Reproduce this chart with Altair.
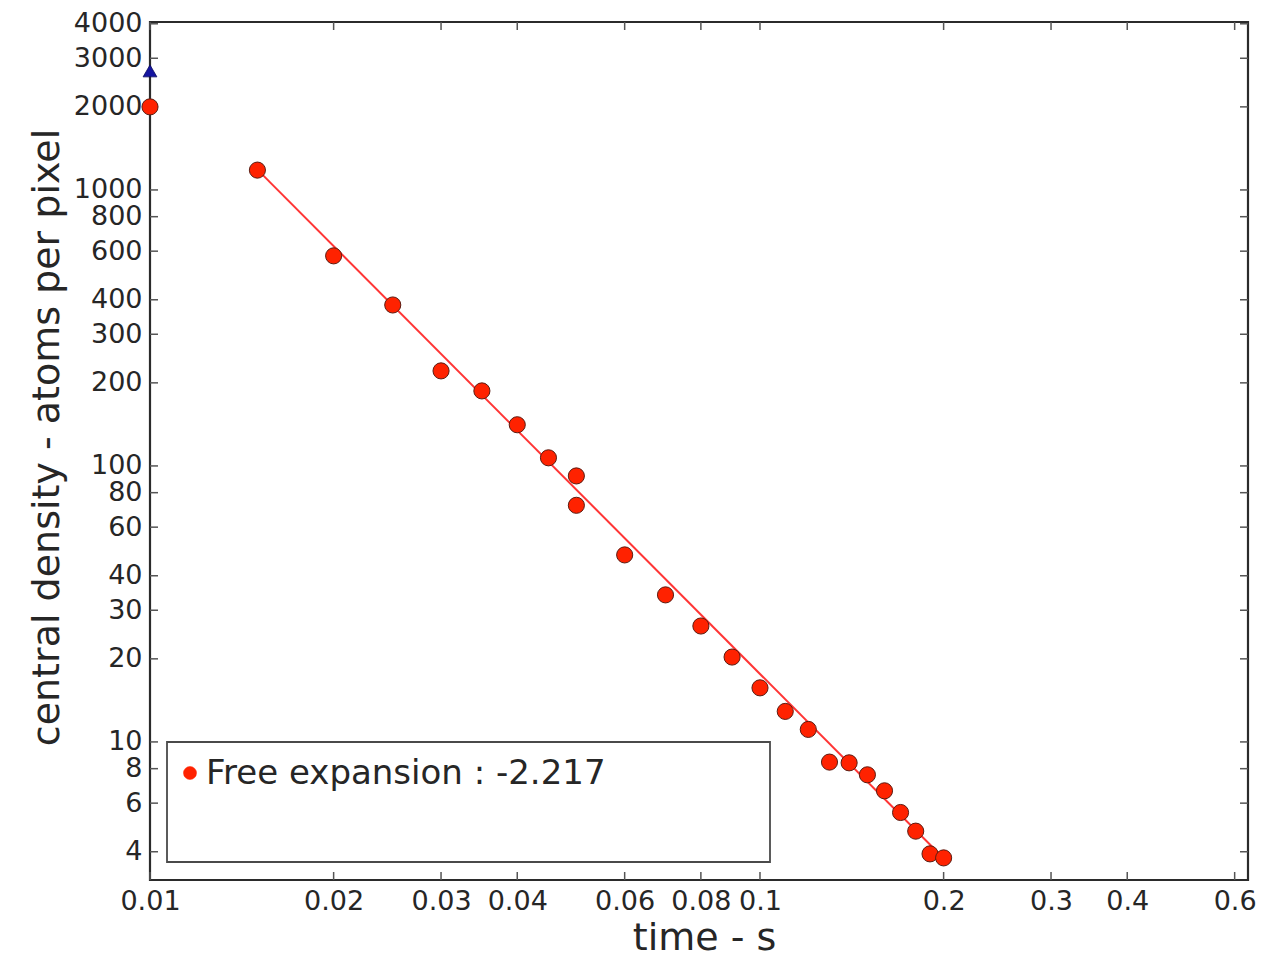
import altair as alt
import pandas as pd

# ---- data ----
time_s = [0.015, 0.02, 0.025, 0.03, 0.035, 0.04, 0.045, 0.05, 0.05, 0.06, 0.07, 0.08,
          0.09, 0.1, 0.11, 0.12, 0.13, 0.14, 0.15, 0.16, 0.17, 0.18, 0.19, 0.2]
density = [1180, 577, 383, 221, 187, 141, 107, 92, 72, 47.6, 34.1, 26.3,
           20.3, 15.7, 12.9, 11.1, 8.45, 8.4, 7.6, 6.65, 5.55, 4.75, 3.93, 3.8]

fit_time = [0.015, 0.2]
fit_density = [1185, 3.79]

start_red_time = [0.01]
start_red_density = [2000]
start_blue_time = [0.01]
start_blue_density = [2700]

x_ticks = [0.01, 0.02, 0.03, 0.04, 0.06, 0.08, 0.1, 0.2, 0.3, 0.4, 0.6]
y_ticks = [4, 6, 8, 10, 20, 30, 40, 60, 80, 100, 200, 300, 400, 600, 800,
           1000, 2000, 3000, 4000]

legend_label = ["Free expansion : -2.217"]

X_DOMAIN = [0.01, 0.631]
Y_DOMAIN = [3.16, 4060]

W, H = 1098, 858
FONT = "DejaVu Sans"
RED = "#ff2200"
EDGE = "#5a1c12"

xs = alt.Scale(type="log", domain=X_DOMAIN, nice=False)
ys = alt.Scale(type="log", domain=Y_DOMAIN, nice=False)

x_axis = alt.Axis(values=x_ticks, format="~g", title="time - s",
                  labelOverlap=False, labelFlush=False, labelPadding=8,
                  titleX=554, titleY=69, titleBaseline="alphabetic",
                  titleAlign="center")
y_axis = alt.Axis(values=y_ticks, format="~g", title="central density - atoms per pixel",
                  labelOverlap=False, labelFlush=False, labelPadding=8,
                  titleX=-92, titleY=415, titleAngle=-90,
                  titleBaseline="alphabetic", titleAlign="center")

pts_df = pd.DataFrame({"t": time_s, "d": density})
fit_df = pd.DataFrame({"t": fit_time, "d": fit_density})
red0_df = pd.DataFrame({"t": start_red_time, "d": start_red_density})
blue0_df = pd.DataFrame({"t": start_blue_time, "d": start_blue_density})
xt_df = pd.DataFrame({"t": x_ticks})
yt_df = pd.DataFrame({"d": y_ticks})
leg_df = pd.DataFrame({"label": legend_label})

fit = alt.Chart(fit_df).mark_line(color="#ff3535", strokeWidth=2).encode(
    x=alt.X("t:Q", scale=xs, axis=x_axis),
    y=alt.Y("d:Q", scale=ys, axis=y_axis),
)

points = alt.Chart(pts_df).mark_point(
    shape="circle", filled=True, fill=RED, stroke=EDGE, strokeWidth=1,
    size=260, opacity=1
).encode(x=alt.X("t:Q", scale=xs), y=alt.Y("d:Q", scale=ys))

red0 = alt.Chart(red0_df).mark_point(
    shape="circle", filled=True, fill=RED, stroke=EDGE, strokeWidth=1,
    size=260, opacity=1, clip=False
).encode(x=alt.X("t:Q", scale=xs), y=alt.Y("d:Q", scale=ys))

blue0 = alt.Chart(blue0_df).mark_point(
    shape="triangle-up", filled=True, fill="#1414a0", stroke="#0a0a60",
    strokeWidth=0.8, size=190, opacity=1, clip=False
).encode(x=alt.X("t:Q", scale=xs), y=alt.Y("d:Q", scale=ys))

tick_style = dict(color="#555555", strokeWidth=1.5)
xt_bottom = alt.Chart(xt_df).mark_rule(**tick_style).encode(
    x=alt.X("t:Q", scale=xs), y=alt.value(H), y2=alt.value(H - 8))
xt_top = alt.Chart(xt_df).mark_rule(**tick_style).encode(
    x=alt.X("t:Q", scale=xs), y=alt.value(0), y2=alt.value(8))
yt_left = alt.Chart(yt_df).mark_rule(**tick_style).encode(
    y=alt.Y("d:Q", scale=ys), x=alt.value(0), x2=alt.value(8))
yt_right = alt.Chart(yt_df).mark_rule(**tick_style).encode(
    y=alt.Y("d:Q", scale=ys), x=alt.value(W), x2=alt.value(W - 8))

leg_box = alt.Chart(leg_df).mark_rect(
    fill="white", stroke="#4a4a4a", strokeWidth=1.8
).encode(x=alt.value(17), x2=alt.value(620), y=alt.value(720), y2=alt.value(840))
leg_dot = alt.Chart(leg_df).mark_point(
    shape="circle", filled=True, fill=RED, stroke=RED, strokeWidth=0.5,
    size=170, opacity=1
).encode(x=alt.value(40), y=alt.value(751))
leg_text = alt.Chart(leg_df).mark_text(
    align="left", baseline="middle", font=FONT, fontSize=34, color="#262626"
).encode(x=alt.value(56), y=alt.value(752), text="label:N")

chart = alt.layer(
    fit, xt_bottom, xt_top, yt_left, yt_right, points, red0, blue0,
    leg_box, leg_dot, leg_text
).properties(
    width=W, height=H,
    autosize=alt.AutoSizeParams(type="none"),
    padding={"left": 142, "top": 14, "right": 25, "bottom": 78},
).configure_view(
    stroke="#2b2b2b", strokeWidth=2.2
).configure_axis(
    grid=False, ticks=False, domain=False,
    labelFont=FONT, labelFontSize=27, labelColor="#262626",
    titleFont=FONT, titleFontSize=38, titleFontWeight="normal", titleColor="#262626",
)

chart.save("out.html", embed_options={"renderer": "svg", "actions": False})
